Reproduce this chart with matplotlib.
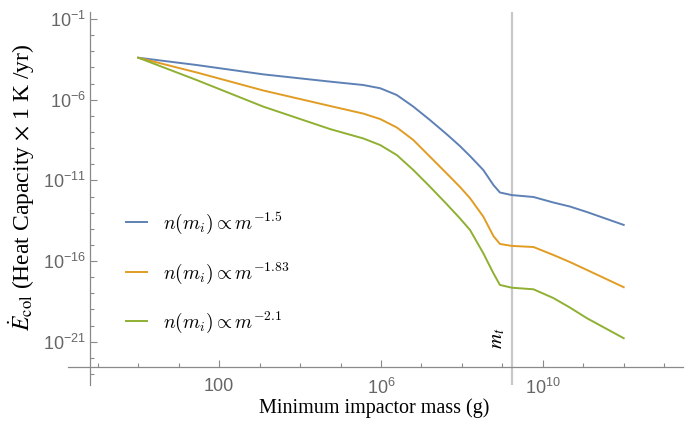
import matplotlib
matplotlib.use('Agg')
import matplotlib.pyplot as plt
import numpy as np
from matplotlib.font_manager import FontProperties

plt.rcParams['mathtext.fontset'] = 'custom'
plt.rcParams['mathtext.rm'] = 'Liberation Sans'
plt.rcParams['mathtext.it'] = 'Liberation Sans:italic'
plt.rcParams['font.family'] = 'Liberation Sans'

# log10 of minimum impactor mass (g)
log_m = [0, 1.44, 3.09, 4.74, 5.56, 5.98, 6.39, 6.80, 7.21, 7.62, 7.95,
         8.20, 8.53, 8.78, 8.94, 9.23, 9.77, 10.26, 10.67, 11.09, 12]
# log10 of E_col for the three size distributions
log_e15 = [-3.40, -3.85, -4.43, -4.88, -5.09, -5.29, -5.71, -6.43, -7.26, -8.13, -8.87,
           -9.49, -10.36, -11.29, -11.75, -11.91, -12.03, -12.37, -12.62, -12.96, -13.76]
log_e183 = [-3.40, -4.31, -5.43, -6.39, -6.86, -7.20, -7.72, -8.50, -9.53, -10.56, -11.40,
            -12.10, -13.25, -14.45, -14.94, -15.06, -15.13, -15.62, -16.06, -16.55, -17.62]
log_e21 = [-3.40, -4.78, -6.43, -7.82, -8.40, -8.81, -9.43, -10.36, -11.39, -12.46, -13.35,
           -14.07, -15.52, -16.76, -17.48, -17.65, -17.75, -18.29, -18.88, -19.54, -20.78]
labels = [r'$n(m_i) \propto m^{-1.5}$', r'$n(m_i) \propto m^{-1.83}$', r'$n(m_i) \propto m^{-2.1}$']
colors = ['#5E81B5', '#E19C24', '#8FB032']
log_mt = 9.23

m = 10.0 ** np.array(log_m)
series = [10.0 ** np.array(v) for v in (log_e15, log_e183, log_e21)]

fig = plt.figure(figsize=(6.98, 4.22), dpi=100)
ax = fig.add_axes([68/698, 1-385/422, 615/698, 373/422])
ax.set_xscale('log')
ax.set_yscale('log')
ax.set_xlim(10**-1.738, 10**13.466)
ax.set_ylim(10**-23.68, 10**-0.566)

ax.axvline(10**log_mt, color='#c8c8c8', lw=1.6, zorder=1)
for y, c, lab in zip(series, colors, labels):
    ax.plot(m, y, color=c, lw=1.4, label=lab, zorder=3, solid_joinstyle='round')

axcol = '#8a8a8a'
for s in ['top', 'right']:
    ax.spines[s].set_visible(False)
ax.spines['left'].set_position(('data', 10**-1.196))
ax.spines['bottom'].set_position(('data', 10**-22.54))
for s in ['left', 'bottom']:
    ax.spines[s].set_color(axcol)
    ax.spines[s].set_linewidth(0.9)

ax.set_xticks([1e2, 1e6, 1e10])
ax.set_xticklabels(['100', r'$\mathregular{10^{6}}$', r'$\mathregular{10^{10}}$'])
ax.set_xticks([10.0**k for k in range(-1, 14) if k not in (2, 6, 10)], minor=True)
ax.set_xticklabels([], minor=True)
yt = [-1, -6, -11, -16, -21]
ax.set_yticks([10.0**k for k in yt])
ax.set_yticklabels([r'$\mathregular{10^{%d}}$' % k for k in yt])
ax.set_yticks([10.0**k for k in range(-23, 0) if k not in yt], minor=True)
ax.set_yticklabels([], minor=True)
ax.tick_params(which='both', direction='in', colors=axcol, labelcolor='#666666', labelsize=13)
ax.tick_params(which='major', length=5, width=0.8)
ax.tick_params(which='minor', length=3, width=0.8)
ax.tick_params(axis='x', pad=8)
ax.tick_params(axis='y', pad=3)

ax.text(10**8.87, 10**-20.76, r'$m_t$', rotation=90, ha='center', va='center',
        fontsize=15, math_fontfamily='stix')

leg = ax.legend(loc='upper left', bbox_to_anchor=(40/615, (385-193)/373), frameon=False,
                prop=FontProperties(size=14, math_fontfamily='cm'),
                handlelength=1.1, handletextpad=0.85, labelspacing=1.25)

fig.text(374.5/698, 1-408/422, 'Minimum impactor mass (g)', ha='center', va='center',
         fontsize=14.5, family='Liberation Serif')
fig.text(22/698, 1-187/422, r'$\dot{E}_{\mathrm{col}}$ (Heat Capacity $\times$ 1 K /yr)',
         rotation=90, ha='center', va='center', fontsize=17, family='Liberation Serif',
         math_fontfamily='stix')

fig.savefig('out.png', dpi=100)
